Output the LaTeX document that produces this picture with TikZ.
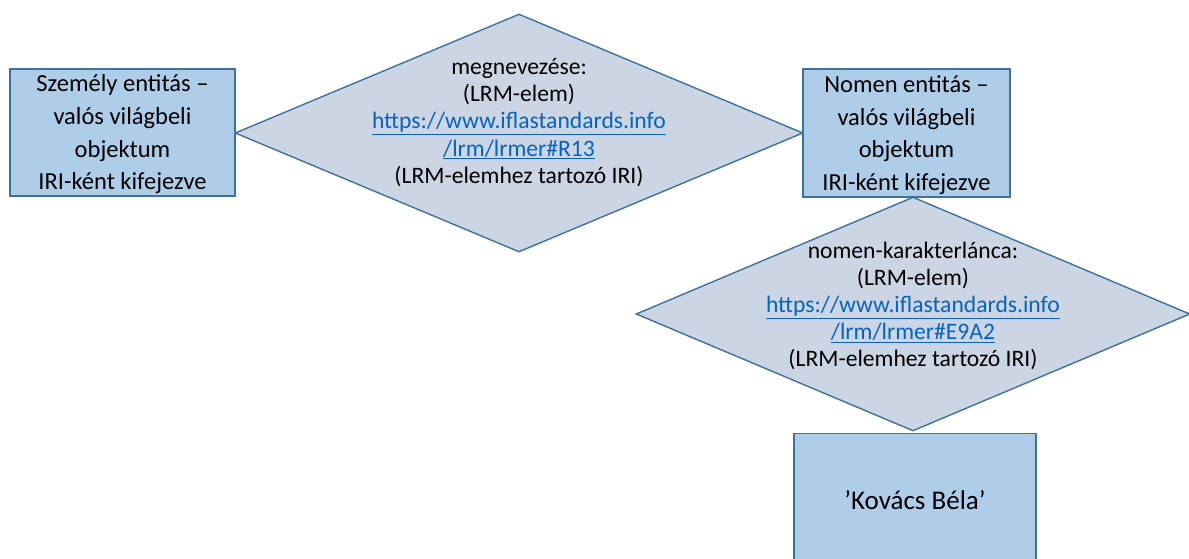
\documentclass[tikz,border=0pt]{standalone}
\usepackage{fontspec}
\setmainfont{Carlito}
\usetikzlibrary{shapes.geometric}
\definecolor{boxfill}{RGB}{174,205,233}
\definecolor{edgeblue}{RGB}{65,113,156}
\definecolor{relfill}{RGB}{203,213,227}
\definecolor{linkblue}{RGB}{5,99,193}
\tikzset{
  entity/.style={draw=edgeblue, fill=boxfill, line width=1.4pt, rectangle, inner sep=0pt},
  relation/.style={draw=edgeblue, fill=relfill, line width=1.4pt, diamond, inner sep=0pt},
  boxtext/.style={align=center, font=\fontsize{24.5}{32.7}\selectfont, text=black},
  valuetext/.style={align=center, font=\fontsize{27}{32}\selectfont, text=black},
  reltext/.style={align=center, font=\fontsize{23.6}{27.1}\selectfont, text=black},
}
\newcommand{\iri}[1]{\textcolor{linkblue}{\underline{#1}}}
\begin{document}
\begin{tikzpicture}[x=1pt, y=-1pt]
  \useasboundingbox (0,0) rectangle (1189,558);
  % relationships
  \node[relation, minimum width=568pt, minimum height=238pt] (rel1) at (519,133) {};
  \node[relation, minimum width=554pt, minimum height=234pt] (rel2) at (913,314) {};
  % entities
  \node[entity, minimum width=225pt, minimum height=127pt] (szemely) at (122.5,132.5) {};
  \node[entity, minimum width=207pt, minimum height=128pt] (nomen) at (906.5,133) {};
  \node[entity, minimum width=242pt, minimum height=135pt, anchor=north] (ertek) at (915,433) {};
  % labels
  \node[boxtext] (szemelyt) at (122.5,134.5) {Személy entitás –\\valós világbeli\\objektum\\IRI-ként kifejezve};
  \node[boxtext] (noment) at (906.5,135) {Nomen entitás –\\valós világbeli\\objektum\\IRI-ként kifejezve};
  \node[valuetext] (ertekt) at (915,500) {’Kovács Béla’};
  \node[reltext] (rel1t) at (519,122.5) {megnevezése:\\(LRM-elem)\\\iri{https://www.iflastandards.info}\\\iri{/lrm/lrmer\#R13}\\(LRM-elemhez tartozó IRI)};
  \node[reltext] (rel2t) at (913,306) {nomen-karakterlánca:\\(LRM-elem)\\\iri{https://www.iflastandards.info}\\\iri{/lrm/lrmer\#E9A2}\\(LRM-elemhez tartozó IRI)};
\end{tikzpicture}
\end{document}
